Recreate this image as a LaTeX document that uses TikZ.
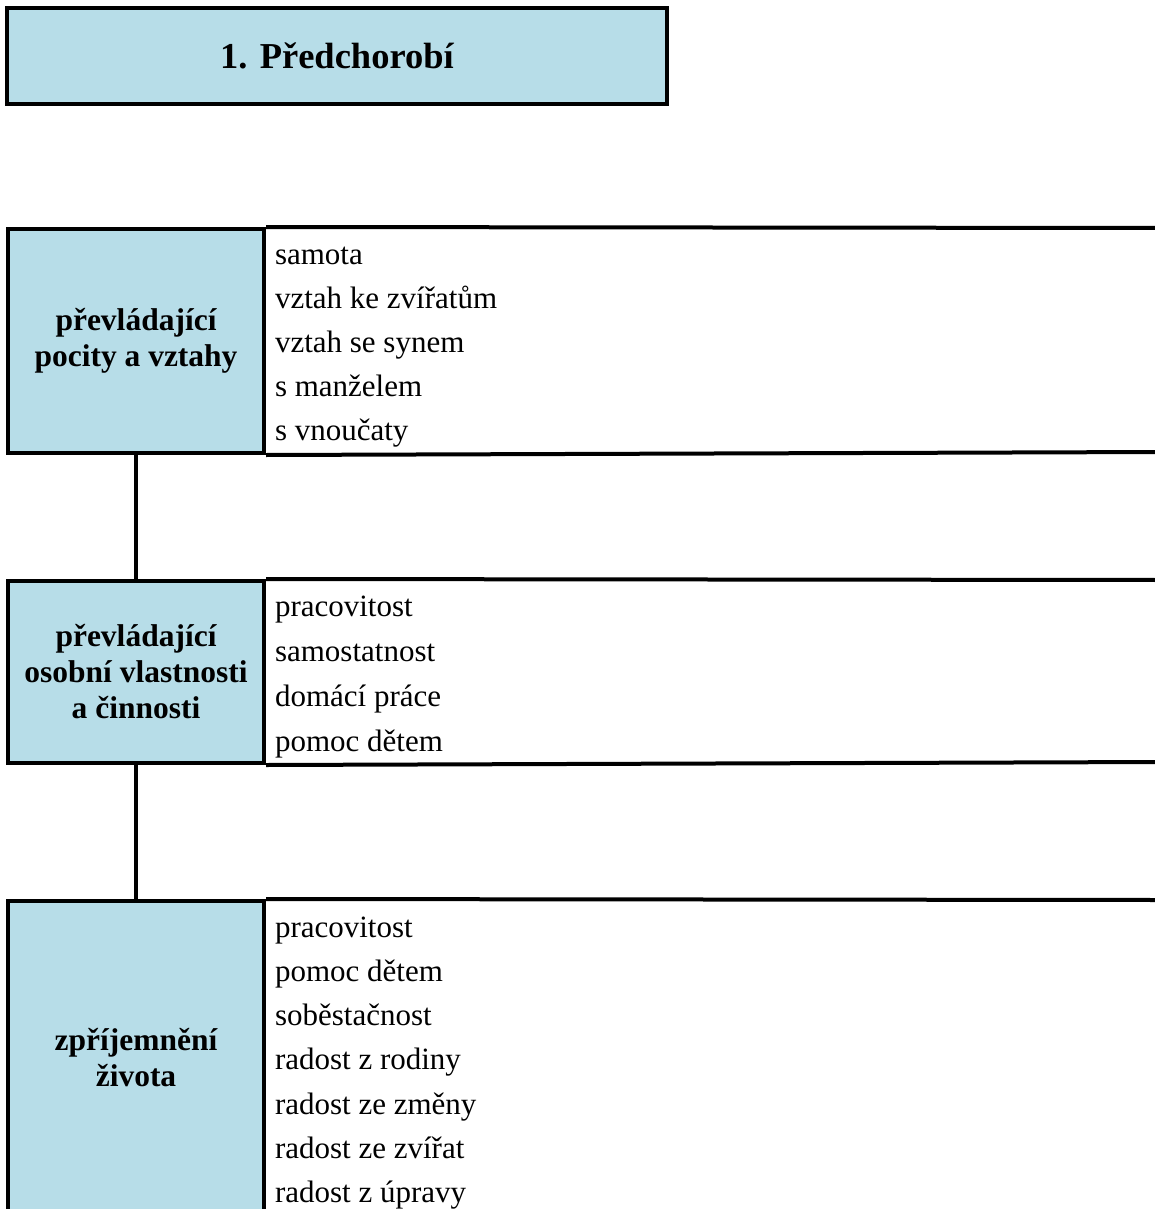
\documentclass[tikz,border=0pt]{standalone}
\usepackage{fontspec}
\setmainfont{Liberation Serif}
\definecolor{cellblue}{HTML}{B7DDE8}
\begin{document}
\begin{tikzpicture}[x=1pt,y=-1pt,line width=4pt,
    cat/.style={draw,fill=cellblue,minimum width=256pt,minimum height=#1,inner sep=0pt,
      align=center,font=\fontsize{31.5}{36}\selectfont\bfseries},
    item/.style={anchor=base west,inner sep=0pt,font=\fontsize{31}{37}\selectfont}]
  \useasboundingbox (0,0) rectangle (1154,1209);
  % title
  \node[draw,fill=cellblue,minimum width=660pt,minimum height=96pt,
    font=\fontsize{36.5}{42}\selectfont\bfseries] (title) at (337,56) {1. Předchorobí};
  % block 1
  \node[cat=224pt] (pocity) at (136,341) {převládající\\pocity a vztahy};
  \draw (pocity.north east) -- (1160,228) (pocity.south east) -- (1160,452);
  \foreach \t [count=\i from 0] in {samota,vztah ke zvířatům,vztah se synem,s manželem,s vnoučaty}
    \node[item] (pocity-\i) at (273,{264+44*\i}) {\t};
  % block 2
  \node[cat=182pt] (vlastnosti) at (136,672) {převládající\\osobní vlastnosti\\a činnosti};
  \draw (vlastnosti.north east) -- (1160,580) (vlastnosti.south east) -- (1160,762);
  \foreach \t [count=\i from 0] in {pracovitost,samostatnost,domácí práce,pomoc dětem}
    \node[item] (vlastnosti-\i) at (273,{616+45*\i}) {\t};
  % block 3
  \node[cat=314pt] (zivot) at (136,1058) {zpříjemnění\\života};
  \draw (zivot.north east) -- (1160,900);
  \foreach \t [count=\i from 0] in {pracovitost,pomoc dětem,soběstačnost,radost z rodiny,radost ze změny,radost ze zvířat,radost z úpravy}
    \node[item] (zivot-\i) at (273,{937+44.3*\i}) {\t};
  % connectors
  \draw (pocity.south) -- (vlastnosti.north);
  \draw (vlastnosti.south) -- (zivot.north);
\end{tikzpicture}
\end{document}
